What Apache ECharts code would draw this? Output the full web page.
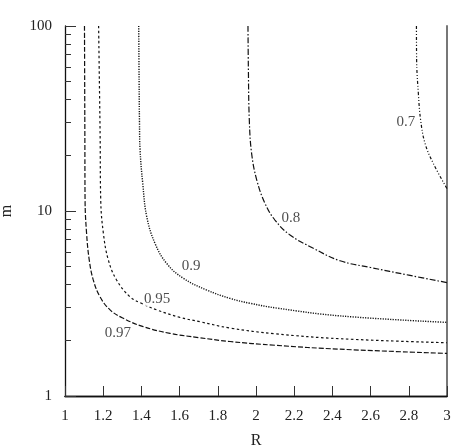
<!DOCTYPE html>
<html>
<head>
<meta charset="utf-8">
<style>
  html, body { margin: 0; padding: 0; background: #fff; }
  #main { width: 457px; height: 448px; }
</style>
<script src="https://cdn.jsdelivr.net/npm/echarts@6/dist/echarts.min.js"></script>
</head>
<body>
<div id="main"></div>
<script>
// contour curves, points as [R, m]
var curve097 = [[1.102, 100], [1.103, 50], [1.104, 25], [1.105, 11.5], [1.113, 7.57], [1.127, 5.43], [1.148, 4.24], [1.183, 3.44], [1.236, 2.92], [1.305, 2.63], [1.41, 2.37], [1.55, 2.18], [1.698, 2.07], [1.864, 1.97], [2.1, 1.88], [2.44, 1.79], [3.0, 1.70]]
var curve095 = [[1.176, 100], [1.18, 50], [1.184, 25], [1.187, 11.5], [1.201, 7.57], [1.227, 5.43], [1.27, 4.24], [1.34, 3.44], [1.40, 3.17], [1.48, 2.92], [1.602, 2.66], [1.707, 2.52], [1.864, 2.33], [2.1, 2.17], [2.44, 2.04], [3.0, 1.94]]
var curve09 = [[1.386, 100], [1.388, 50], [1.39, 30], [1.393, 21.4], [1.407, 14.1], [1.428, 9.31], [1.471, 6.69], [1.532, 5.21], [1.619, 4.33], [1.742, 3.74], [1.864, 3.37], [1.969, 3.17], [2.115, 2.98], [2.44, 2.71], [3.0, 2.5]]
var curve08 = [[1.958, 100], [1.96, 60], [1.965, 31], [1.977, 20.5], [2.004, 14.7], [2.047, 11.0], [2.099, 8.94], [2.178, 7.42], [2.30, 6.29], [2.44, 5.38], [2.6, 4.95], [2.8, 4.5], [3.0, 4.1]]
var curve07 = [[2.84, 100], [2.841, 65.5], [2.85, 43.3], [2.862, 31], [2.885, 23.2], [2.928, 18.1], [3.0, 13.2]]

// contour labels and where they sit
var labelNames = ['0.97', '0.95', '0.9', '0.8', '0.7']
var labelPos = [[1.277, 2.19], [1.482, 3.35], [1.66, 5.04], [2.183, 9.17], [2.785, 30.3]]

// minor ticks of the log axis
var minorTicks = [2, 3, 4, 5, 6, 7, 8, 9, 20, 30, 40, 50, 60, 70, 80, 90]

var serif = 'Liberation Serif'

var element = document.querySelector('#main')
var myChart = echarts.init(element)

var curveSeries = (data, dash, width) => {
    return {
        type: 'line',
        data: data,
        smooth: 0.4,
        symbol: 'none',
        lineStyle: {color: '#111', width: width || 1.2, type: dash},
        z: 2,
    }
}

var labelData = labelNames.map((n, i) => {
    return {name: n, value: labelPos[i]}
})

myChart.setOption({
    animation: false,
    grid: {left: 65, right: 10, top: 26, bottom: 52, outerBoundsMode: 'none', containLabel: false},
    xAxis: [
        {
            type: 'value',
            min: 1,
            max: 3,
            interval: 0.2,
            name: 'R',
            nameLocation: 'middle',
            nameGap: 37,
            nameTextStyle: {fontFamily: serif, fontSize: 16, color: '#222'},
            axisLine: {lineStyle: {color: '#111', width: 1.3}},
            axisTick: {inside: true, length: 10, lineStyle: {color: '#333'}},
            axisLabel: {fontFamily: serif, fontSize: 15, color: '#222', margin: 13},
            splitLine: {show: false},
        },
        {
            type: 'value',
            position: 'top',
            min: 1,
            max: 3,
            axisLine: {show: true, lineStyle: {color: '#111', width: 1.3}},
            axisTick: {show: false},
            axisLabel: {show: false},
            splitLine: {show: false},
        },
    ],
    yAxis: [
        {
            type: 'log',
            logBase: 10,
            min: 1,
            max: 100,
            name: 'm',
            nameLocation: 'middle',
            nameGap: 50,
            nameRotate: 90,
            nameTextStyle: {fontFamily: serif, fontSize: 16, color: '#222'},
            axisLine: {show: true, lineStyle: {color: '#111', width: 1.3}},
            axisTick: {inside: true, length: 11, lineStyle: {color: '#333'}},
            axisLabel: {fontFamily: serif, fontSize: 15, color: '#222', margin: 13},
            splitLine: {show: false},
        },
        {
            // linear twin of the log axis (0..2 = log10 of 1..100), only for the minor ticks
            type: 'value',
            min: 0,
            max: 2,
            position: 'left',
            axisLine: {show: false},
            axisTick: {inside: true, length: 6, customValues: minorTicks.map((v) => Math.log10(v)), lineStyle: {color: '#333'}},
            axisLabel: {show: false},
            splitLine: {show: false},
        },
        {
            type: 'value',
            position: 'right',
            min: 0,
            max: 1,
            axisLine: {show: true, lineStyle: {color: '#777', width: 2}},
            axisTick: {show: false},
            axisLabel: {show: false},
            splitLine: {show: false},
        },
    ],
    series: [
        curveSeries(curve097, [5, 2]),
        curveSeries(curve095, [2.5, 2.5]),
        curveSeries(curve09, [1.2, 1.3], 1.4),
        curveSeries(curve08, [6, 2, 1.5, 2]),
        curveSeries(curve07, [3, 2, 1, 2, 1, 2]),
        {
            type: 'scatter',
            data: labelData,
            symbolSize: 1,
            itemStyle: {color: 'rgba(0,0,0,0)'},
            label: {
                show: true,
                position: 'inside',
                formatter: (p) => p.name,
                fontFamily: serif,
                fontSize: 15,
                color: '#222',
                backgroundColor: '#fff',
                padding: [0, 1],
            },
            z: 5,
        },
    ],
})
</script>
</body>
</html>
